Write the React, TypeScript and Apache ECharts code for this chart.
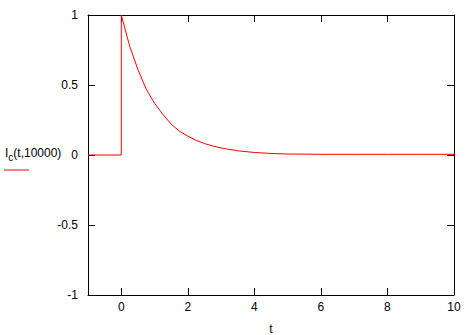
import React, { useEffect, useRef } from "react";
import * as echarts from "echarts";

const tValues = [-1, -0.5, 0, 0, 0.25, 0.5, 0.75, 1, 1.25, 1.5, 1.75, 2, 2.25, 2.5, 2.75, 3, 3.5, 4, 4.5, 5, 5.5, 6, 7, 8, 9, 10];
const icValues = [0, 0, 0, 1, 0.78, 0.61, 0.47, 0.37, 0.29, 0.22, 0.17, 0.135, 0.105, 0.082, 0.064, 0.05, 0.03, 0.018, 0.011, 0.007, 0.006, 0.005, 0.005, 0.005, 0.005, 0.005];
const xTicks = [0, 2, 4, 6, 8, 10];
const yTicks = [-1, -0.5, 0, 0.5, 1];
const xMin = -1;
const xMax = 10;
const yMin = -1;
const yMax = 1;
const seriesLabel = "I";
const seriesSub = "c";
const seriesArgs = "(t,10000)";
const xName = "t";

export default function App() {
  const ref = useRef<HTMLDivElement>(null);
  useEffect(() => {
    if (!ref.current) return;
    const chart = echarts.init(ref.current, null, { renderer: "svg" });
    const font = "Liberation Sans, Arial, sans-serif";
    const axisLine = { show: true, onZero: false, lineStyle: { color: "#000", width: 1 } };
    const tick = { show: false };
    const L = 7;
    const st = { stroke: "#000", lineWidth: 1 };
    const snap = (p: number) => Math.round(p) + 0.5;
    chart.setOption({
      animation: false,
      backgroundColor: "#fff",
      grid: { left: 88, right: 15, top: 15, bottom: 40, containLabel: false, outerBoundsMode: "none" },
      xAxis: [
        {
          type: "value",
          min: xMin,
          max: xMax,
          position: "bottom",
          axisLine,
          axisTick: tick,
          axisLabel: { customValues: xTicks, color: "#000", fontFamily: font, fontSize: 12, margin: 6 },
          splitLine: { show: false },
          name: xName,
          nameLocation: "middle",
          nameGap: 28,
          nameTextStyle: { color: "#000", fontFamily: font, fontSize: 12 },
        },
        {
          type: "value",
          min: xMin,
          max: xMax,
          position: "top",
          axisLine,
          axisTick: tick,
          axisLabel: { show: false },
          splitLine: { show: false },
        },
      ],
      yAxis: [
        {
          type: "value",
          min: yMin,
          max: yMax,
          interval: 0.5,
          position: "left",
          axisLine,
          axisTick: tick,
          axisLabel: { color: "#000", fontFamily: font, fontSize: 12, margin: 10 },
          splitLine: { show: false },
        },
        {
          type: "value",
          min: yMin,
          max: yMax,
          interval: 0.5,
          position: "right",
          axisLine,
          axisTick: tick,
          axisLabel: { show: false },
          splitLine: { show: false },
        },
      ],
      series: [
        {
          type: "custom",
          xAxisIndex: 0,
          yAxisIndex: 0,
          silent: true,
          clip: false,
          z: 1,
          data: xTicks.map((v) => [v, 0]),
          renderItem: (params: any, api: any) => {
            const v = api.value(0);
            const b = api.coord([v, yMin]);
            const t = api.coord([v, yMax]);
            const x = snap(b[0]);
            return {
              type: "group",
              children: [
                { type: "line", shape: { x1: x, y1: b[1], x2: x, y2: b[1] - L }, style: st },
                { type: "line", shape: { x1: x, y1: t[1], x2: x, y2: t[1] + L }, style: st },
              ],
            };
          },
        },
        {
          type: "custom",
          xAxisIndex: 0,
          yAxisIndex: 0,
          silent: true,
          clip: false,
          z: 1,
          data: yTicks.map((v) => [0, v]),
          renderItem: (params: any, api: any) => {
            const v = api.value(1);
            const l = api.coord([xMin, v]);
            const r = api.coord([xMax, v]);
            const y = snap(l[1]);
            return {
              type: "group",
              children: [
                { type: "line", shape: { x1: l[0], y1: y, x2: l[0] + L, y2: y }, style: st },
                { type: "line", shape: { x1: r[0], y1: y, x2: r[0] - L, y2: y }, style: st },
              ],
            };
          },
        },
        {
          type: "line",
          xAxisIndex: 0,
          yAxisIndex: 0,
          data: tValues.map((t, i) => [t, icValues[i]]),
          showSymbol: false,
          smooth: false,
          lineStyle: { color: "#ff0000", width: 1 },
          itemStyle: { color: "#ff0000" },
          z: 3,
        },
      ],
      graphic: [
        {
          type: "text",
          left: 5,
          top: 147,
          style: {
            text: `{m|${seriesLabel}}{s|${seriesSub}}{m|${seriesArgs}}`,
            rich: {
              m: { fontFamily: font, fontSize: 12, fill: "#000" },
              s: { fontFamily: font, fontSize: 10, fill: "#000", padding: [8, 0, 0, 0] },
            },
          },
        },
        {
          type: "line",
          shape: { x1: 4, y1: 170, x2: 29, y2: 170 },
          style: { stroke: "#ff0000", lineWidth: 1 },
        },
      ],
    });
    return () => chart.dispose();
  }, []);
  return <div ref={ref} style={{ width: 469, height: 335, position: "absolute", left: 0, top: 0 }} />;
}
